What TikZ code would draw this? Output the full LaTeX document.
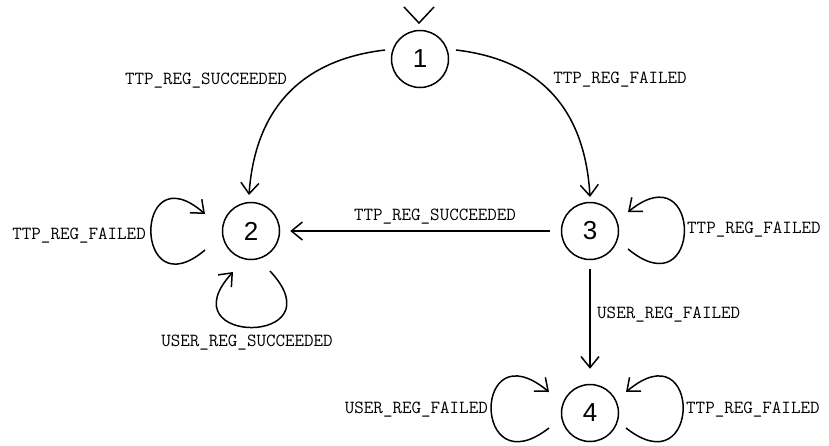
\documentclass[tikz,border=0pt]{standalone}
\usepackage{fontspec}
\usepackage{tikz}
\usetikzlibrary{arrows.meta,calc}
\newfontfamily\statefont{Liberation Sans}

\tikzset{
  state/.style={circle,draw,line width=1.5pt,minimum size=57pt,inner sep=0pt,
    font=\statefont\fontsize{26}{26}\selectfont},
  trans/.style={line width=1.5pt,-{Straight Barb[length=11pt,width=18pt,line width=1.5pt]}},
  ev/.style={font=\ttfamily\fontsize{18.5}{18.5}\selectfont,inner sep=1pt}
}

\begin{document}
\begin{tikzpicture}[x=1pt,y=-1pt]
\useasboundingbox (0,0) rectangle (829,445);
% states
\node [state] (s1) at (420,59) {1};
\node [state] (s2) at (251,231) {2};
\node [state] (s3) at (590,231) {3};
\node [state] (s4) at (590,413) {4};
% start mark
\coordinate (init) at (419,23);
\draw [line width=1.5pt] (init) ++(-15,-16) -- (init) -- ++(15,-16);
% transitions
\draw [trans] ($(s1)+(-35,-9)$) .. controls (300,60) and (255,110) .. ($(s2)+(-2,-36)$);
\node [ev] at (206,81) {TTP\_REG\_SUCCEEDED};
\draw [trans] ($(s1)+(36,-9)$) .. controls (541,60) and (585,110) .. ($(s3)+(0,-34)$);
\node [ev] at (620,80) {TTP\_REG\_FAILED};
\draw [trans,shorten <=11pt,shorten >=10pt] (s3) -- (s2);
\node [ev] at (435,217) {TTP\_REG\_SUCCEEDED};
\draw [trans,shorten <=9pt,shorten >=15pt] (s3) -- (s4);
\node [ev,anchor=west] at (596,315) {USER\_REG\_FAILED};
% loops on 2
\draw [trans] ($(s2)+(-46,19)$) .. controls ($(s2)+(-118,80)$) and ($(s2)+(-118,-80)$) .. ($(s2)+(-46,-17)$);
\node [ev,anchor=east] at (147,236) {TTP\_REG\_FAILED};
\draw [trans] ($(s2)+(19,40)$) .. controls ($(s2)+(89,115)$) and ($(s2)+(-86,115)$) .. ($(s2)+(-18,41)$);
\node [ev] at (247,343) {USER\_REG\_SUCCEEDED};
% loop on 3
\draw [trans] ($(s3)+(38,18)$) .. controls ($(s3)+(113,80)$) and ($(s3)+(113,-80)$) .. ($(s3)+(38,-19)$);
\node [ev,anchor=west] at (686,230) {TTP\_REG\_FAILED};
% loops on 4
\draw [trans] ($(s4)+(-41,15)$) .. controls ($(s4)+(-118,75)$) and ($(s4)+(-118,-85)$) .. ($(s4)+(-41,-21)$);
\node [ev,anchor=east] at (489,410) {USER\_REG\_FAILED};
\draw [trans] ($(s4)+(36,15)$) .. controls ($(s4)+(112,75)$) and ($(s4)+(112,-85)$) .. ($(s4)+(36,-21)$);
\node [ev,anchor=west] at (685,410) {TTP\_REG\_FAILED};
\end{tikzpicture}
\end{document}
